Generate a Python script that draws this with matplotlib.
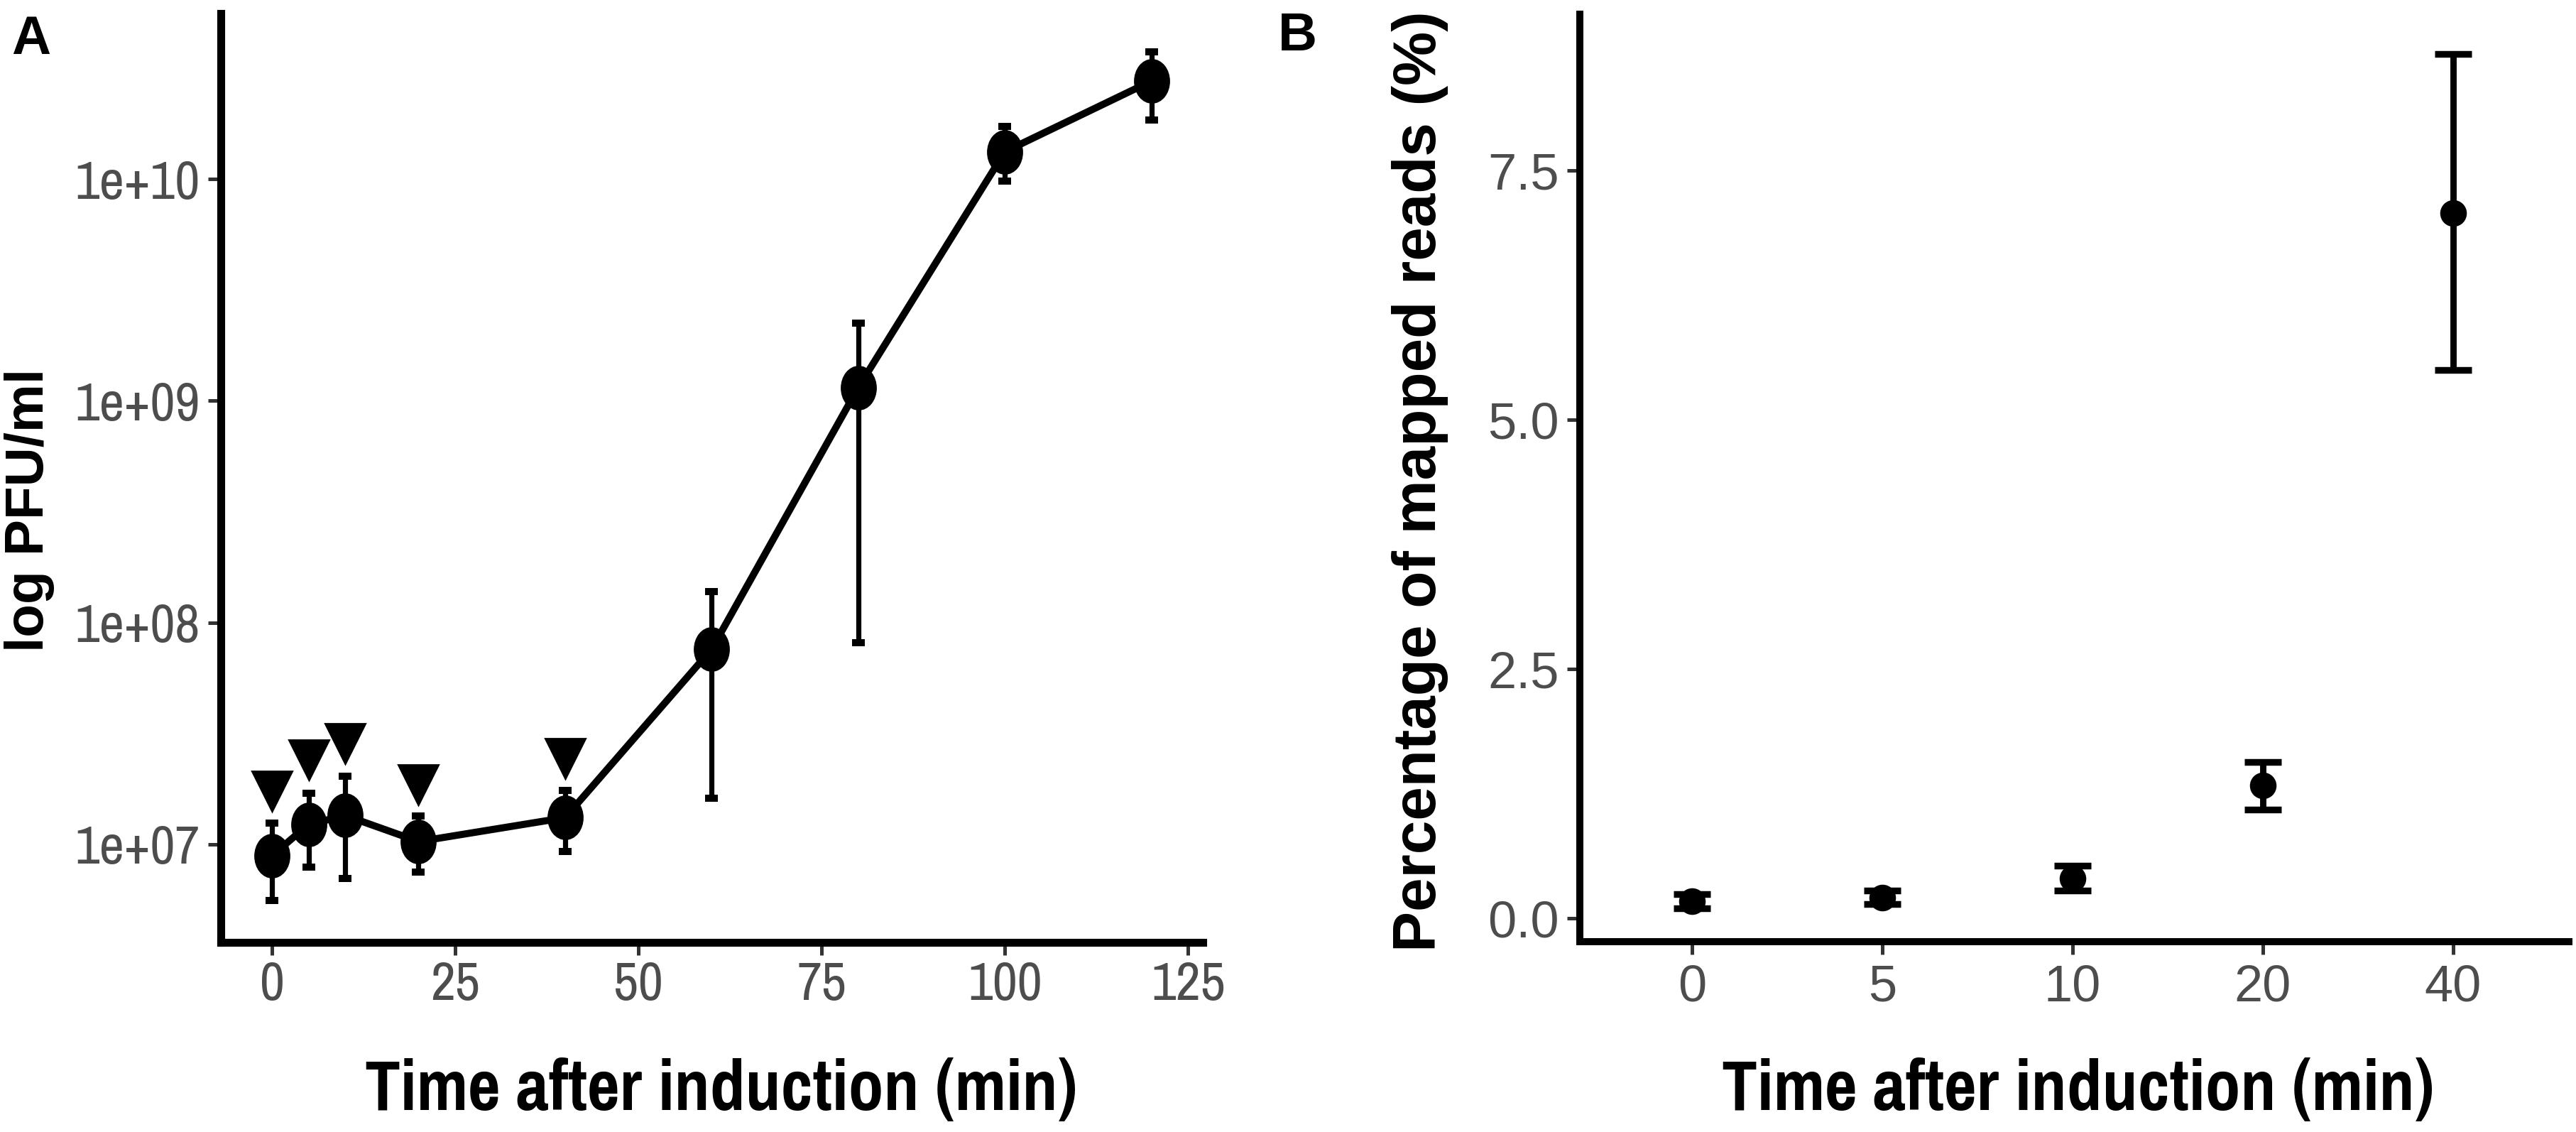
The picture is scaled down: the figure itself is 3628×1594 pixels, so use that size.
import numpy as np
import matplotlib
matplotlib.use("Agg")
import matplotlib.pyplot as plt
from matplotlib.path import Path
from matplotlib.transforms import Affine2D
from matplotlib.ticker import FixedLocator, NullLocator

# ---------------- data ----------------
# Panel A: plaque-forming units over time
time_a = [0, 5, 10, 20, 40, 60, 80, 100, 120]
pfu_mean = [8.9e6, 1.23e7, 1.35e7, 1.03e7, 1.32e7, 7.6e7, 1.15e9, 1.33e10, 2.77e10]
pfu_low = [5.6e6, 7.9e6, 7.0e6, 7.5e6, 9.3e6, 1.62e7, 8.1e7, 9.8e9, 1.85e10]
pfu_high = [1.25e7, 1.70e7, 2.03e7, 1.34e7, 1.75e7, 1.38e8, 2.25e9, 1.73e10, 3.75e10]
# triangle annotations above early time points
tri_time = [0, 5, 10, 20, 40]
tri_pfu = [1.74e7, 2.40e7, 2.85e7, 1.86e7, 2.44e7]
a_yticks = [1e7, 1e8, 1e9, 1e10]
a_yticklabels = ["1e+07", "1e+08", "1e+09", "1e+10"]
a_xticks = [0, 25, 50, 75, 100, 125]

# Panel B: percentage of mapped reads
cats_b = ["0", "5", "10", "20", "40"]
pct_mean = [0.17, 0.21, 0.40, 1.33, 7.07]
pct_low = [0.10, 0.14, 0.28, 1.09, 5.50]
pct_high = [0.24, 0.28, 0.53, 1.57, 8.67]
b_yticks = [0.0, 2.5, 5.0, 7.5]
b_yticklabels = ["0.0", "2.5", "5.0", "7.5"]

xlabel = "Time after induction (min)"
ylabel_a = "log PFU/ml"
ylabel_b = "Percentage of mapped reads (%)"

# ---------------- style ----------------
W, H, DPI = 3628, 1594, 200
fig = plt.figure(figsize=(W / DPI, H / DPI), dpi=DPI)
NARROW = ["Pragati Narrow", "PT Sans Narrow", "Barlow Semi Condensed",
          "Archivo Narrow", "DejaVu Sans"]
SANS = ["Liberation Sans", "DejaVu Sans"]
TICKCOL = "#4D4D4D"

def fx(px):
    return px / W

def fy(py):
    return 1 - py / H

def style_axes(ax, lw):
    for s in ["top", "right"]:
        ax.spines[s].set_visible(False)
    for s in ["left", "bottom"]:
        ax.spines[s].set_linewidth(lw)
        ax.spines[s].set_color("black")
        ax.spines[s].set_capstyle("projecting")
    ax.tick_params(axis="both", which="major", length=6.5, width=1.8,
                   color="#333333", labelcolor=TICKCOL)
    ax.tick_params(axis="both", which="minor", length=0)
    ax.set_facecolor("white")

# ---------------- panel A ----------------
axA = fig.add_axes([fx(311), fy(1327), fx(1694 - 311), (1327 - 19) / H])
axA.set_yscale("log")
m_arr = np.array(pfu_mean)
err = np.vstack([m_arr - np.array(pfu_low), np.array(pfu_high) - m_arr])
axA.plot(time_a, pfu_mean, color="black", lw=3.6, zorder=2, solid_joinstyle="round")
axA.errorbar(time_a, pfu_mean, yerr=err, fmt="none", ecolor="black",
             elinewidth=2.6, capsize=3.3, capthick=3.6, zorder=3)
ellipse = Path.unit_circle().transformed(Affine2D().scale(0.8, 1.0))
axA.plot(time_a, pfu_mean, linestyle="none", marker=ellipse, markersize=21.6,
         color="black", zorder=4)
axA.plot(tri_time, tri_pfu, linestyle="none", marker="v", markersize=20,
         color="black", zorder=4)
axA.set_xlim(-6.98, 127.0)
axA.set_ylim(10 ** 6.558, 10 ** 10.747)
axA.yaxis.set_major_locator(FixedLocator(a_yticks))
axA.yaxis.set_minor_locator(NullLocator())
axA.set_yticklabels(a_yticklabels, family=NARROW, fontsize=30)
axA.set_xticks(a_xticks)
axA.set_xticklabels([str(v) for v in a_xticks], family=NARROW, fontsize=30)
style_axes(axA, 4.0)
axA.tick_params(axis="y", pad=4)
axA.tick_params(axis="x", pad=3)

# ---------------- panel B ----------------
axB = fig.add_axes([fx(2225), fy(1326), fx(3618 - 2225), (1326 - 20) / H])
xb = np.arange(len(cats_b))
pm = np.array(pct_mean)
errb = np.vstack([pm - np.array(pct_low), np.array(pct_high) - pm])
axB.errorbar(xb, pct_mean, yerr=errb, fmt="none", ecolor="black",
             elinewidth=3.2, capsize=9.4, capthick=3.4, zorder=3)
axB.plot(xb, pct_mean, linestyle="none", marker="o", markersize=12.5,
         color="black", zorder=4)
axB.set_xlim(-0.59, 4.61)
axB.set_ylim(-0.235, 9.067)
axB.set_xticks(xb)
axB.set_xticklabels(cats_b, family=SANS, fontsize=26)
axB.set_yticks(b_yticks)
axB.set_yticklabels(b_yticklabels, family=SANS, fontsize=26)
style_axes(axB, 3.6)
axB.tick_params(axis="y", pad=4)
axB.tick_params(axis="x", pad=5)

# ---------------- titles and panel letters ----------------
fig.text(fx(1015), fy(1563), xlabel, ha="center", va="baseline",
         family=NARROW, fontweight="bold", fontsize=39)
fig.text(fx(2926), fy(1563), xlabel, ha="center", va="baseline",
         family=NARROW, fontweight="bold", fontsize=39)
fig.text(fx(42), fy(718), ylabel_a, ha="center", va="center", rotation=90,
         family=SANS, fontweight="bold", fontsize=27.5)
fig.text(fx(2000), fy(678), ylabel_b, ha="center", va="center", rotation=90,
         family=SANS, fontweight="bold", fontsize=30.8)
fig.text(fx(16), fy(76), "A", ha="left", va="baseline", family=SANS,
         fontweight="bold", fontsize=27.5)
fig.text(fx(1800), fy(71), "B", ha="left", va="baseline", family=SANS,
         fontweight="bold", fontsize=27.5)

fig.savefig("out.png", dpi=DPI, facecolor="white")
